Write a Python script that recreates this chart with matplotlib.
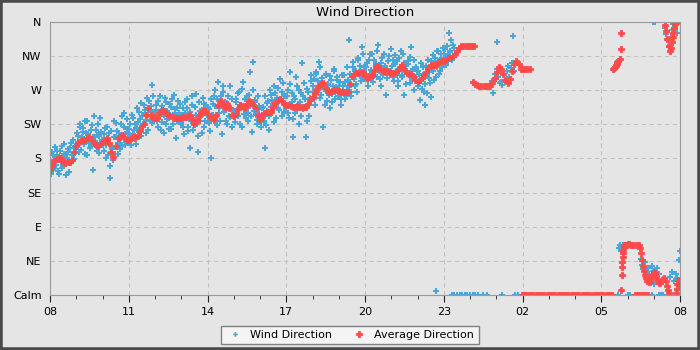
import numpy as np
import matplotlib
matplotlib.use("Agg")
from matplotlib import pyplot as plt
from matplotlib.patches import Rectangle

# compass labels for the y axis (degrees, 0 = calm)
dir_labels = ["Calm", "NE", "E", "SE", "S", "SW", "W", "NW", "N"]
dir_ticks = [0, 45, 90, 135, 180, 225, 270, 315, 360]
hour_labels = ["08", "11", "14", "17", "20", "23", "02", "05", "08"]

# wind direction, one reading every 3 minutes from 08:00 (degrees)
wind_day = [
    172, 160, 185, 168, 178, 190, 163, 182, 175, 196, 170, 186, 158, 180, 192, 174, 201, 184, 179, 197,
    195, 210, 188, 222, 205, 215, 199, 230, 184, 212, 207, 196, 224, 165, 203, 218, 190, 210, 233, 200,
    205, 190, 220, 198, 185, 214, 154, 193, 178, 230, 208, 216, 186, 201, 225, 196, 240, 212, 202, 219,
    212, 225, 198, 233, 218, 206, 247, 228, 215, 253, 236, 222, 244, 214, 260, 238, 229, 249, 277, 235,
    236, 250, 222, 241, 262, 228, 245, 214, 255, 232, 240, 219, 248, 258, 226, 238, 207, 246, 231, 252,
    228, 246, 212, 240, 258, 222, 236, 194, 250, 218, 231, 265, 225, 189, 243, 236, 214, 252, 229, 247,
    230, 245, 216, 181, 238, 262, 249, 224, 281, 240, 256, 212, 268, 244, 230, 253, 236, 275, 247, 222,
    242, 228, 259, 236, 268, 250, 221, 281, 246, 233, 262, 240, 294, 252, 215, 307, 257, 238, 226, 249,
    236, 222, 248, 230, 194, 242, 256, 218, 264, 240, 252, 276, 234, 260, 246, 285, 258, 268, 241, 262,
    248, 270, 233, 294, 255, 208, 262, 240, 276, 251, 225, 266, 306, 245, 258, 208, 272, 236, 260, 282,
    268, 285, 250, 292, 274, 307, 260, 280, 222, 271, 290, 256, 277, 246, 283, 265, 298, 259, 274, 288,
    262, 281, 250, 275, 290, 258, 270, 284, 336, 262, 288, 300, 276, 296, 268, 310, 290, 282, 327, 300,
    285, 300, 276, 310, 292, 318, 281, 297, 305, 288, 330, 296, 276, 312, 290, 302, 264, 298, 315, 291,
    296, 310, 282, 305, 290, 275, 312, 298, 287, 318, 264, 302, 293, 308, 280, 327, 296, 270, 288, 301,
    276, 292, 257, 284, 300, 268, 251, 292, 310, 286, 261, 298, 316, 304, 288, 322, 309, 296, 318, 305,
    312, 325, 303, 318, 346, 320, 310, 330,
]

# second sensor pass, offset by 1.5 minutes from the readings above
wind_day_b = [
    176, 188, 165, 195, 171, 183, 159, 190, 177, 167, 199, 181, 173, 188, 162, 194, 178, 205, 186, 192,
    214, 198, 226, 191, 208, 220, 186, 213, 229, 201, 194, 217, 208, 236, 198, 211, 226, 187, 215, 205,
    198, 212, 181, 222, 204, 170, 216, 195, 209, 186, 227, 200, 213, 193, 236, 209, 221, 198, 232, 214,
    219, 205, 238, 212, 226, 199, 220, 241, 232, 210, 226, 251, 240, 231, 218, 256, 244, 227, 262, 241,
    244, 229, 256, 236, 218, 249, 238, 260, 226, 243, 233, 252, 219, 237, 264, 245, 230, 256, 240, 226,
    238, 221, 254, 233, 246, 216, 241, 230, 262, 224, 248, 238, 210, 254, 230, 244, 260, 222, 250, 237,
    248, 227, 259, 238, 252, 270, 235, 258, 246, 230, 262, 276, 241, 254, 226, 263, 248, 235, 258, 243,
    235, 254, 244, 266, 226, 250, 272, 239, 258, 246, 230, 264, 249, 236, 270, 243, 254, 231, 262, 245,
    228, 246, 238, 262, 224, 253, 236, 270, 248, 257, 228, 266, 250, 273, 244, 259, 236, 280, 262, 247,
    262, 240, 278, 250, 266, 232, 258, 288, 244, 270, 254, 236, 263, 280, 248, 230, 268, 252, 290, 258,
    276, 258, 294, 268, 282, 300, 264, 286, 272, 250, 292, 278, 264, 289, 255, 275, 296, 268, 283, 262,
    275, 258, 290, 268, 281, 262, 300, 276, 292, 268, 307, 285, 296, 278, 312, 294, 302, 286, 318, 296,
    292, 306, 284, 318, 297, 286, 310, 290, 300, 322, 296, 285, 306, 292, 318, 300, 286, 308, 296, 324,
    302, 288, 316, 295, 308, 282, 298, 322, 290, 306, 296, 278, 304, 292, 314, 285, 298, 310, 282, 296,
    296, 282, 306, 272, 290, 278, 302, 266, 294, 280, 308, 296, 284, 312, 300, 322, 292, 310, 300, 326,
    318, 306, 328, 315, 322, 336, 312, 326,
]

# scattered readings overnight (minutes after 08:00, degrees)
wind_night_min = [882, 918, 924, 930, 936, 942, 948, 954, 960, 966, 972, 978, 990, 998, 1033,
                  1010, 1013, 1016, 1019, 1022, 1022, 1025, 1028, 1031, 1034, 1040, 1044, 1047,
                  1050, 1053, 1056, 1058, 1060, 1063, 1070, 1078, 1086,
                  1290, 1293, 1296, 1298, 1300, 1303, 1306, 1309, 1312, 1320, 1325,
                  1350, 1353, 1356, 1359, 1362, 1366, 1369, 1372, 1375, 1378, 1381, 1384,
                  1387, 1390, 1393, 1356, 1362, 1368, 1376, 1391, 1396, 1401,
                  1379, 1383, 1406, 1409, 1412, 1414, 1416, 1419, 1422, 1425, 1428, 1432,
                  1418, 1422, 1426, 1430, 1434, 1438, 1439]
wind_night_deg = [5, 0, 0, 0, 0, 0, 0, 0, 0, 0, 0, 0, 0, 0, 0,
                  282, 266, 291, 285, 334, 298, 287, 279, 281, 277, 284, 296, 302,
                  288, 299, 306, 342, 296, 0, 0, 0, 0,
                  297, 302, 300, 0, 62, 66, 58, 66, 64, 0, 0,
                  48, 40, 34, 44, 30, 36, 28, 22, 38, 32, 14, 25,
                  35, 20, 28, 0, 0, 0, 0, 0, 0, 0,
                  360, 360, 352, 344, 336, 327, 330, 340, 350, 358, 355, 345,
                  24, 30, 18, 28, 22, 46, 58]

# average direction, every 5 minutes from 08:00 until just after midnight
avg_day = [
    165, 170, 177, 179, 181, 180, 176, 174, 175, 176, 178, 188,
    196, 202, 203, 204, 205, 207, 208, 205, 200, 198, 197, 199,
    202, 205, 207, 200, 188, 182, 196, 207, 209, 211, 208, 204,
    205, 207, 208, 208, 210, 216, 223, 226, 238, 246, 238, 234,
    233, 234, 240, 244, 242, 240, 238, 236, 235, 234, 233, 233,
    234, 235, 235, 236, 237, 232, 225, 230, 236, 240, 243, 243,
    239, 235, 233, 231, 238, 250, 256, 250, 248, 252, 247, 237,
    236, 239, 245, 251, 249, 247, 252, 256, 254, 250, 246, 238,
    231, 235, 240, 241, 241, 242, 248, 253, 257, 259, 256, 252,
    251, 250, 249, 248, 248, 249, 248, 248, 248, 248, 252, 257,
    261, 267, 272, 276, 278, 279, 273, 268, 268, 269, 270, 270,
    269, 268, 268, 268, 268, 278, 289, 292, 293, 293, 294, 293,
    289, 286, 288, 290, 296, 302, 302, 298, 296, 295, 295, 294,
    293, 293, 294, 297, 301, 303, 298, 293, 292, 291, 289, 284,
    281, 283, 286, 290, 294, 299, 303, 303, 303, 305, 307, 308,
    309, 310, 312, 313, 315, 318, 322, 326, 328, 329, 329, 329,
    329, 329, 329,
]

# average after the restart at 00:06, every 5 minutes
avg_restart_start = 966
avg_restart = [281, 278, 277, 276, 276, 275, 275, 276, 276, 279, 286, 294, 300, 298,
               292, 283, 280, 285, 296, 304, 309, 304, 298, 298, 298, 298, 298]

# calm average 02:00 - 05:25
avg_calm_start = 1080
avg_calm = [0] * 42

# average through the morning change (minutes after 08:00, degrees)
avg_late_min = [1287, 1289, 1291, 1293, 1295, 1297, 1299, 1302, 1304, 1305, 1306, 1307, 1307.5,
                1308, 1309, 1309.5, 1310, 1311, 1312, 1315, 1318, 1321, 1324, 1327, 1330, 1333,
                1340, 1343, 1346, 1349, 1351, 1353, 1355, 1357, 1359, 1362, 1365, 1368, 1371,
                1374, 1377, 1380, 1383, 1386, 1389, 1392, 1395, 1398, 1401, 1404, 1407, 1410,
                1412, 1414, 1336, 1340, 1344, 1348, 1352, 1356, 1360, 1364,
                1405, 1408, 1411, 1414, 1417, 1419, 1421, 1423, 1425, 1427, 1429, 1431,
                1430, 1432, 1434, 1436, 1438, 1440]
avg_late_deg = [298, 299, 301, 303, 305, 307, 308, 311, 324, 345, 7, 26, 37,
                44, 50, 55, 59, 63, 66, 66, 66, 67, 67, 66, 66, 66,
                66, 66, 66, 62, 55, 46, 38, 32, 27, 22, 19, 17, 17,
                21, 26, 30, 29, 24, 19, 16, 16, 18, 21, 22, 18, 12,
                7, 3, 0, 0, 0, 0, 0, 0, 0, 0,
                356, 348, 338, 328, 322, 326, 334, 340, 346, 352, 357, 359,
                3, 8, 14, 20, 15, 10]

blue = "#4aa6d6"
red = "#ff4a4a"


def draw_graph():
    fig = plt.figure(figsize=(7, 3.5), dpi=100, facecolor="#e5e5e5")
    ax = fig.add_axes([50 / 700, 55 / 350, 630 / 700, 273 / 350])
    ax.set_facecolor("#e5e5e5")

    # wind readings
    t_a = np.arange(len(wind_day)) * 3 / 60
    t_b = (np.arange(len(wind_day_b)) * 3 + 1.5) / 60
    t_night = np.array(wind_night_min) / 60
    wind_t = np.concatenate([t_a, t_b, t_night])
    wind_d = np.concatenate([wind_day, wind_day_b, wind_night_deg])
    ax.plot(wind_t, wind_d, "P", color=blue, ms=4.2, mew=0, ls="none",
            label="Wind Direction")

    # averages
    t_avg = np.concatenate([
        np.arange(len(avg_day)) * 5 / 60,
        (avg_restart_start + np.arange(len(avg_restart)) * 5) / 60,
        (avg_calm_start + np.arange(len(avg_calm)) * 5) / 60,
        np.array(avg_late_min) / 60,
    ])
    d_avg = np.concatenate([avg_day, avg_restart, avg_calm, avg_late_deg])
    ax.plot(t_avg, d_avg, "P", color=red, ms=4.8, mew=0.6, mec=red, ls="none",
            label="Average Direction")

    ax.set_xlim(0, 24)
    ax.set_ylim(0, 360)
    ax.set_yticks(dir_ticks)
    ax.set_yticklabels(dir_labels)
    ax.set_xticks(np.arange(0, 25, 3))
    ax.set_xticklabels(hour_labels)
    ax.set_xticks(np.arange(0, 25, 1), minor=True)
    ax.tick_params(axis="y", length=0, labelsize=8, pad=6)
    ax.tick_params(axis="x", which="major", length=5, labelsize=8, color="#222222")
    ax.tick_params(axis="x", which="minor", length=3, color="#222222")
    ax.grid(True, which="major", ls=(0, (4, 3)), color="#c3c3c3", lw=0.8)
    ax.set_axisbelow(True)
    for s in ax.spines.values():
        s.set_color("#9a9a9a")

    ax.set_title("Wind Direction", fontsize=9.5, pad=4)

    leg = fig.legend(loc="lower center", bbox_to_anchor=(0.5, 0.0), ncol=2,
                     fontsize=8, frameon=True, fancybox=False, markerscale=0.8,
                     handletextpad=0.6, columnspacing=1.6, borderpad=0.4,
                     handlelength=1.6)
    leg.get_frame().set_facecolor("#f4f4f4")
    leg.get_frame().set_edgecolor("#808080")
    leg.get_frame().set_alpha(1)

    # dark outer border
    fig.patches.append(Rectangle((0, 0), 1, 1, transform=fig.transFigure,
                                 fill=False, edgecolor="#4a4a4a", lw=4))

    fig.savefig("out.png", dpi=100, facecolor=fig.get_facecolor())


if __name__ == "__main__":
    draw_graph()
